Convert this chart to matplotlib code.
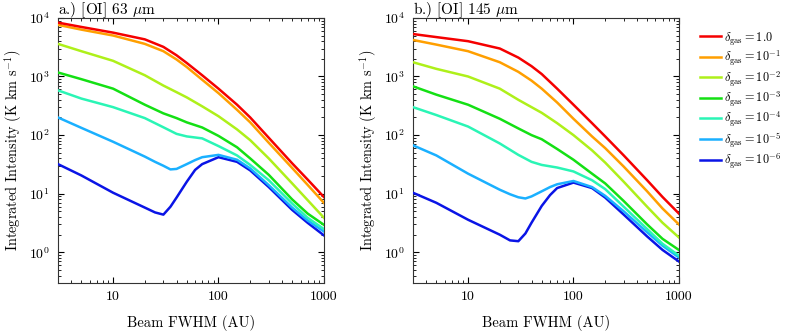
import matplotlib
matplotlib.use("Agg")
import matplotlib.pyplot as plt

plt.rcParams["font.family"] = "serif"
plt.rcParams["font.serif"] = ["cmr10", "DejaVu Serif"]
plt.rcParams["mathtext.fontset"] = "cm"
plt.rcParams["axes.unicode_minus"] = False
plt.rcParams["axes.formatter.use_mathtext"] = True
plt.rcParams["font.size"] = 10

# beam FWHM sample points (AU)
beam = [3, 5, 10, 20, 30, 40, 50, 70, 100, 150, 200, 300, 500, 700, 1000]
beam_dip = [3, 5, 10, 20, 25, 30, 35, 40, 50, 60, 70, 100, 150, 200, 300, 500, 700, 1000]

# panel a: [OI] 63 um
a_d0 = [8300, 7000, 5600, 4300, 3200, 2300, 1700, 1050, 620, 330, 200, 90, 33, 17.5, 8.8]
a_d1 = [7600, 6300, 5000, 3600, 2700, 1950, 1450, 880, 520, 270, 165, 74, 27.5, 14.2, 7.0]
a_d2 = [3600, 2700, 1850, 1050, 700, 540, 440, 310, 210, 125, 82, 40, 15, 7.8, 3.9]
a_d3 = [1170, 900, 620, 330, 235, 195, 165, 135, 97, 62, 40, 21, 8.0, 4.6, 2.95]
a_d4 = [580, 420, 300, 195, 136, 105, 95, 88, 65, 45, 31, 17, 6.8, 3.9, 2.5]
a_d5 = [200, 133, 77, 43, 35, 30, 26, 26.5, 32, 37.5, 42, 46, 38, 27, 14, 5.8, 3.5, 2.27]
a_d6 = [32, 20.5, 10.4, 5.8, 4.8, 4.4, 6.0, 8.6, 16, 25.5, 32, 42, 35, 25, 13, 5.3, 3.2, 1.95]

# panel b: [OI] 145 um
b_d0 = [5300, 4700, 4000, 3000, 2100, 1500, 1100, 620, 330, 160, 95, 45, 17, 8.8, 4.6]
b_d1 = [4200, 3500, 2700, 1750, 1200, 850, 620, 360, 190, 95, 60, 29, 11, 5.6, 3.0]
b_d2 = [1750, 1350, 1000, 620, 400, 300, 240, 160, 100, 55, 34, 16, 6.0, 3.2, 1.8]
b_d3 = [680, 490, 330, 190, 130, 100, 85, 58, 38, 22, 15, 7.5, 3.0, 1.7, 1.1]
b_d4 = [300, 220, 140, 72, 46, 35, 31, 28, 24, 17, 12, 6.0, 2.5, 1.4, 0.88]
b_d5 = [67, 45, 22, 11.7, 9.8, 8.7, 8.3, 9.0, 11, 13, 14.5, 16.5, 13, 9.2, 5.0, 2.2, 1.3, 0.82]
b_d6 = [10.4, 7.0, 3.6, 2.0, 1.6, 1.55, 2.1, 3.2, 6.2, 9.5, 12.5, 15.5, 12.5, 8.6, 4.4, 1.87, 1.1, 0.7]

labels = [r"$\delta_{\rm gas} = 1.0$", r"$\delta_{\rm gas} = 10^{-1}$",
          r"$\delta_{\rm gas} = 10^{-2}$", r"$\delta_{\rm gas} = 10^{-3}$",
          r"$\delta_{\rm gas} = 10^{-4}$", r"$\delta_{\rm gas} = 10^{-5}$",
          r"$\delta_{\rm gas} = 10^{-6}$"]
colors = ["#f50000", "#ff9f00", "#aef01a", "#14e014", "#2af5b5", "#1ab0ff", "#0a14e6"]

panels = [
    ("a.) [OI] 63 $\\mu$m", [a_d0, a_d1, a_d2, a_d3, a_d4, a_d5, a_d6]),
    ("b.) [OI] 145 $\\mu$m", [b_d0, b_d1, b_d2, b_d3, b_d4, b_d5, b_d6]),
]

fig = plt.figure(figsize=(7.89, 3.31), dpi=100)
axes = [fig.add_axes([0.0735, 0.145, 0.337, 0.801]),
        fig.add_axes([0.5234, 0.145, 0.337, 0.801])]

for ax, (title, series) in zip(axes, panels):
    for i, (vals, c, lab) in enumerate(zip(series, colors, labels)):
        xs = beam_dip if len(vals) == len(beam_dip) else beam
        ax.plot(xs, vals, color=c, lw=1.8, label=lab, zorder=10 - i)
    ax.set_xscale("log")
    ax.set_yscale("log")
    ax.set_xlim(3, 1000)
    ax.set_ylim(0.3, 1e4)
    ax.set_xticks([10, 100, 1000])
    ax.set_xticklabels(["10", "100", "1000"])
    ax.tick_params(which="both", direction="in", top=True, right=True, labelsize=10)
    ax.tick_params(which="major", length=4)
    ax.tick_params(which="minor", length=2)
    ax.tick_params(axis="both", pad=6)
    for s in ax.spines.values():
        s.set_color("#333333")
    ax.set_xlabel("Beam FWHM (AU)", labelpad=8, fontsize=10.5)
    ax.set_ylabel(r"Integrated Intensity (K km s$^{-1}$)", labelpad=3, fontsize=10.3)
    # panel label sitting on the top spine, baseline just above the axes
    fig.text(ax.get_position().x0, 0.957, title, ha="left", va="baseline", fontsize=11)

handles, labs = axes[1].get_legend_handles_labels()
fig.legend(handles, labs, loc="upper left", bbox_to_anchor=(0.887, 0.91),
           frameon=False, handlelength=1.7, handletextpad=0.25,
           labelspacing=0.12, fontsize=8.8, borderaxespad=0, borderpad=0)

fig.savefig("out.png", dpi=100)
